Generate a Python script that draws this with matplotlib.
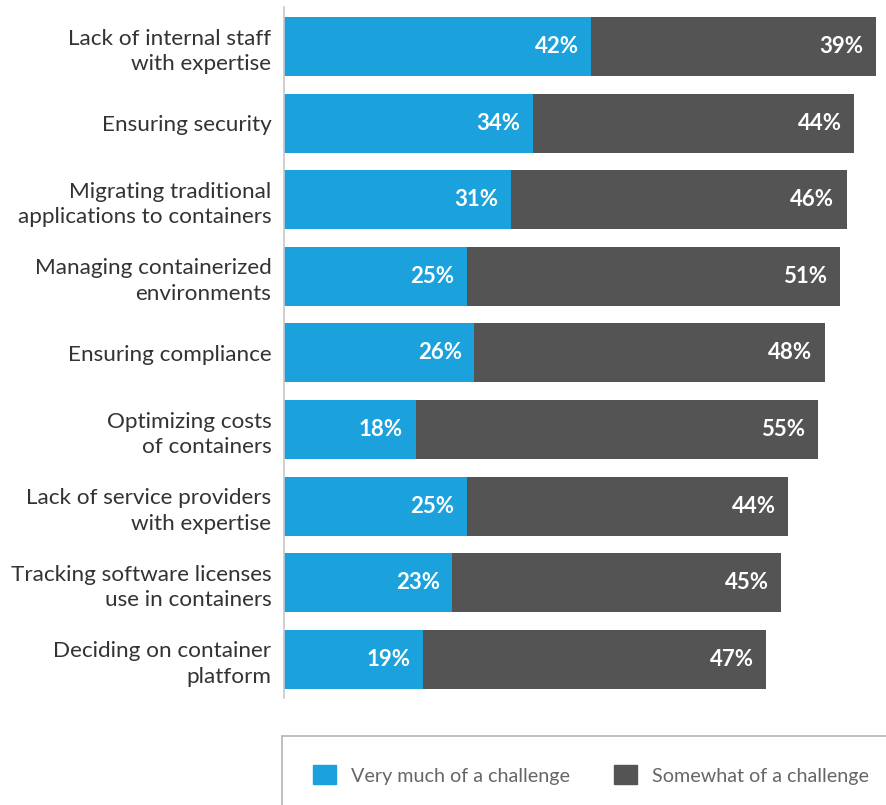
import matplotlib.pyplot as plt
from matplotlib.patches import Rectangle, Patch

plt.rcParams['font.family'] = ['Lato', 'DejaVu Sans']

categories = [
    'Lack of internal staff\nwith expertise',
    'Ensuring security',
    'Migrating traditional\napplications to containers',
    'Managing containerized\nenvironments',
    'Ensuring compliance',
    'Optimizing costs\nof containers',
    'Lack of service providers\nwith expertise',
    'Tracking software licenses\nuse in containers',
    'Deciding on container\nplatform',
]
very_much = [42, 34, 31, 25, 26, 18, 25, 23, 19]
somewhat = [39, 44, 46, 51, 48, 55, 44, 45, 47]

blue = '#1ba1db'
dark = '#545454'

W, H = 887, 805
fig = plt.figure(figsize=(W / 100, H / 100), dpi=100)
ax = fig.add_axes([284 / W, 1 - 698 / H, (W - 284) / W, (698 - 7) / H])

y = list(range(len(categories)))
ax.barh(y, very_much, height=0.77, color=blue)
ax.barh(y, somewhat, left=very_much, height=0.77, color=dark)

for i in y:
    v, s = very_much[i], somewhat[i]
    ax.text(v - 1.7, i, f'{v}%', ha='right', va='center', color='white',
            fontsize=16, fontweight='bold')
    ax.text(v + s - 1.7, i, f'{s}%', ha='right', va='center', color='white',
            fontsize=16, fontweight='bold')

ax.set_xlim(0, (W - 284) / 7.31)
ax.set_ylim(8.505, -0.516)
ax.set_yticks(y)
ax.set_yticklabels(categories, fontsize=16.2, color='#333333', linespacing=1.35)
ax.tick_params(axis='y', length=0, pad=9)
ax.set_xticks([])
for side in ['top', 'right', 'bottom']:
    ax.spines[side].set_visible(False)
ax.spines['left'].set_color('#c8c8c8')
ax.spines['left'].set_linewidth(1.2)

# legend frame
fig.patches.append(Rectangle((282 / W, -0.05), 1.0, (1 - 736 / H) + 0.05,
                             transform=fig.transFigure, fill=False,
                             edgecolor='#b4b4b4', linewidth=1.2))

handles = [Patch(color=blue, label='Very much of a challenge'),
           Patch(color=dark, label='Somewhat of a challenge')]
fig.legend(handles=handles, loc='center left', ncol=2, frameon=False,
           bbox_to_anchor=(295 / W, 1 - 775 / H),
           handlelength=1.2, handleheight=1.1, handletextpad=0.75,
           columnspacing=2.2, prop={'size': 14.2},
           labelcolor='#666666')

fig.savefig('out.png', dpi=100)
